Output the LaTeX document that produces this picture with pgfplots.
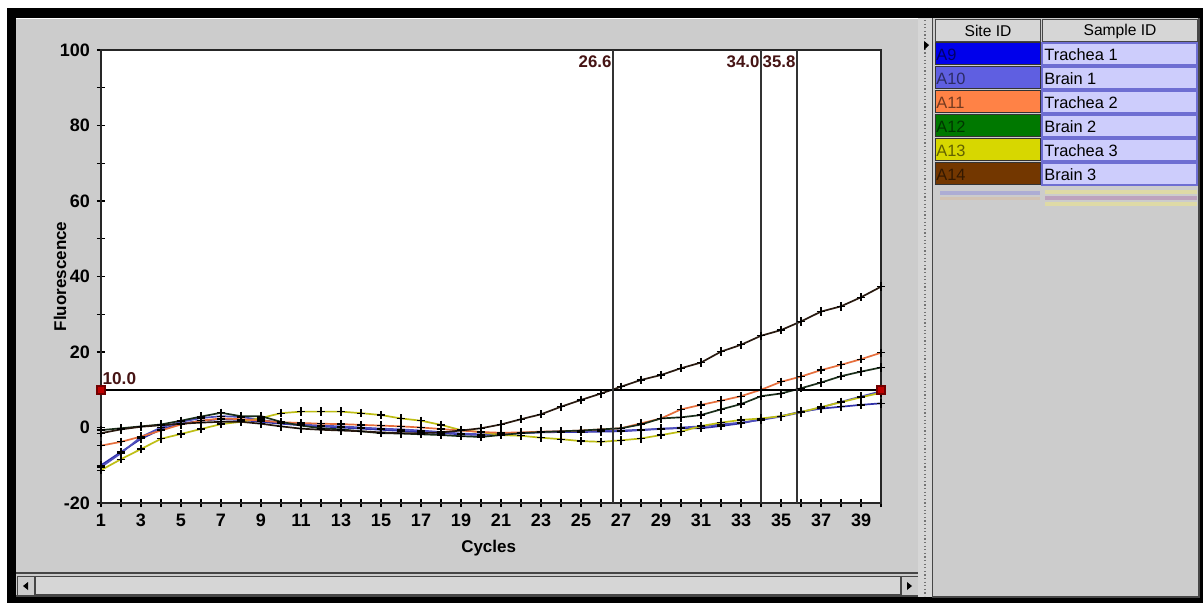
\documentclass[border=0pt]{standalone}
\usepackage{pgfplots}
\pgfplotsset{compat=1.18}
\usepackage{pgfplotstable}
\usepackage{fontspec}
\setmainfont{Liberation Sans}
\definecolor{panel}{RGB}{204,204,204}
\definecolor{track}{RGB}{214,214,214}
\definecolor{edge}{RGB}{70,70,70}
\definecolor{cAnine}{RGB}{0,0,235}
\definecolor{cAten}{RGB}{95,95,225}
\definecolor{cAeleven}{RGB}{255,130,70}
\definecolor{cAtwelve}{RGB}{0,120,0}
\definecolor{cAthirteen}{RGB}{215,215,0}
\definecolor{cAfourteen}{RGB}{115,55,0}
\definecolor{lav}{RGB}{205,205,252}
\definecolor{lavline}{RGB}{110,110,210}
\definecolor{maroon}{RGB}{70,20,20}
\definecolor{lblue}{RGB}{50,50,170}
\definecolor{lmblue}{RGB}{80,80,190}
\definecolor{lorange}{RGB}{230,110,60}
\definecolor{lgreen}{RGB}{25,45,25}
\definecolor{lyellow}{RGB}{190,190,20}
\definecolor{lbrown}{RGB}{40,25,15}

\pgfplotstableread{
c  blue  mblue orange green yellow brown
1  -10.0 -10.5 -4.8  -0.7  -11.3  -1.5
2  -6.5  -6.8  -3.8  -0.2  -8.4   -0.5
3  -3.0  -2.5  -2.4   0.3  -5.7    0.2
4  -0.5   0.0  -0.8   0.8  -3.0    0.6
5   1.0   1.5   0.8   1.8  -1.7    1.0
6   1.8   2.5   1.8   2.9  -0.4    1.3
7   2.2   3.0   2.4   3.9   0.9    1.5
8   2.0   2.8   2.2   3.0   1.5    1.5
9   1.5   2.0   1.8   3.0   2.5    1.0
10  1.0   1.3   1.4   1.5   3.8    0.3
11  0.6   0.8   1.2   0.5   4.2   -0.3
12  0.3   0.5   1.0  -0.2   4.2   -0.6
13  0.0   0.3   0.9  -0.5   4.2   -0.8
14 -0.3   0.0   0.7  -1.0   3.8   -1.0
15 -0.6  -0.3   0.5  -1.5   3.3   -1.3
16 -0.9  -0.5   0.3  -1.6   2.4   -1.5
17 -1.2  -0.8   0.0  -1.8   1.8   -1.5
18 -1.5  -1.2  -0.4  -2.0   0.7   -1.3
19 -1.8  -1.6  -0.8  -2.3  -0.7   -0.8
20 -2.0  -1.8  -1.2  -2.5  -1.2   -0.2
21 -1.8  -1.6  -1.4  -2.0  -2.0    0.8
22 -1.5  -1.4  -1.3  -1.5  -2.2    2.2
23 -1.3  -1.2  -1.1  -1.2  -2.7    3.5
24 -1.2  -1.0  -1.0  -1.0  -3.1    5.5
25 -1.2  -1.0  -0.8  -0.8  -3.6    7.3
26 -1.1  -0.8  -0.5  -0.5  -3.8    9.0
27 -1.0  -0.8  -0.2  -0.2  -3.4   10.8
28 -0.7  -0.6   1.1   0.8  -2.9   12.6
29 -0.3  -0.4   2.4   2.4  -2.0   13.9
30 -0.2   0.0   4.8   2.7  -1.1   15.7
31 -0.2   0.3   6.0   3.3   0.4   17.2
32  0.4   0.8   7.1   4.8   1.3   20.1
33  1.1   1.3   8.3   6.2   2.0   21.9
34  2.2   2.0  10.0   8.3   2.4   24.3
35  3.0   2.9  12.1   9.0   3.0   25.8
36  4.2   4.0  13.5  10.4   4.1   28.1
37  5.0   5.3  15.2  11.9   5.4   30.7
38  5.5   6.8  16.6  13.6   6.7   32.1
39  6.0   8.2  18.1  14.8   8.0   34.5
40  6.4   9.6  19.8  15.9   9.2   37.3
}\datatable

\begin{document}
\begin{tikzpicture}
\begin{scope}[x=0.5pt,y=-0.5pt]
  % page and window frame
  \fill[white] (0,0) rectangle (1203,603);
  \fill[black] (7,8) rectangle (1203,603);
  % left panel
  \fill[panel] (16,18) rectangle (918,597);
  \draw[white,line width=0.6pt] (16,18.5) -- (918,18.5);
  % scrollbar
  \draw[edge,line width=0.9pt] (16,573) -- (918,573);
  \fill[track] (35,576) rectangle (900,594);
  \draw[edge,line width=0.5pt] (35,576) rectangle (900,594);
  \fill[panel] (17,576) rectangle (34,595);
  \draw[edge,line width=0.5pt] (17,576) rectangle (34,595);
  \fill[panel] (901,576) rectangle (918,595);
  \draw[edge,line width=0.5pt] (901,576) rectangle (918,595);
  \fill[black] (23,586) -- (28,582) -- (28,590) -- cycle;
  \fill[black] (912,586) -- (907,582) -- (907,590) -- cycle;
  \draw[edge,line width=0.9pt] (16,596) -- (918,596);
  % separator
  \fill[track] (918,18) rectangle (932,597);
  \draw[black!55,line width=0.9pt,dash pattern=on 0.6pt off 1.2pt] (925,20) -- (925,596);
  \fill[black] (922,12) -- (927,8) -- (927,17) -- cycle;
  \fill[black] (929,45) -- (924,41) -- (924,50) -- cycle;
  % right panel
  \fill[panel] (932,18) rectangle (1199,597);
  \draw[edge,line width=0.9pt] (932.5,18) -- (932.5,597) -- (1199,597) -- (1199,18);
  % header
  \fill[track] (935,20) rectangle (1040,42);
  \draw[edge,line width=0.5pt] (935,20) rectangle (1040,42);
  \fill[track] (1042,20) rectangle (1197,42);
  \draw[edge,line width=0.5pt] (1042,20) rectangle (1197,42);
  \node[font=\fontsize{7.8}{9}\selectfont,inner sep=0] at (988,31) {Site ID};
  \node[font=\fontsize{7.8}{9}\selectfont,inner sep=0] at (1120,31) {Sample ID};
  % rows
  \foreach \i/\col/\id/\name in {0/cAnine/A9/Trachea 1,1/cAten/A10/Brain 1,2/cAeleven/A11/Trachea 2,3/cAtwelve/A12/Brain 2,4/cAthirteen/A13/Trachea 3,5/cAfourteen/A14/Brain 3}{
    \pgfmathsetmacro{\ya}{43+24*\i}
    \pgfmathsetmacro{\yb}{\ya+22}
    \pgfmathsetmacro{\ym}{\ya+11.5}
    \fill[\col] (935,\ya) rectangle (1040,\yb);
    \draw[black!80,line width=0.5pt] (935,\ya) rectangle (1040,\yb);
    \fill[lav] (1042,\ya) rectangle (1197,\yb);
    \draw[lavline,line width=0.9pt] (1042,\ya) rectangle (1197,\yb);
    \node[anchor=west,inner sep=0,text=\col!45!black,font=\fontsize{8.2}{9}\selectfont] at (936,\ym) {\id};
    \node[anchor=west,inner sep=0,font=\fontsize{8.2}{9}\selectfont] at (1044,\ym) {\name};
  }
  % faint ghost stripes
  \fill[blue!15!panel] (940,191) rectangle (1040,195);
  \fill[yellow!25!panel] (1045,190) rectangle (1197,194);
  \fill[orange!12!panel] (940,197) rectangle (1040,200);
  \fill[violet!20!panel] (1045,196) rectangle (1197,200);
  \fill[yellow!25!panel] (1045,202) rectangle (1197,206);
\end{scope}

\begin{axis}[
  at={(50.5pt,-251.5pt)}, anchor=south west,
  width=390pt, height=226.5pt, scale only axis,
  xmin=1, xmax=40, ymin=-20, ymax=100,
  axis background/.style={fill=white},
  axis line style={draw=black!85, line width=0.9pt},
  xtick={1,3,...,39}, minor xtick={2,4,...,40},
  ytick={-20,0,...,100}, minor ytick={-10,10,...,90},
  xtick pos=lower, ytick pos=left,
  tick align=center, major tick length=4pt, minor tick length=4pt,
  tick style={black, line width=0.7pt},
  ticklabel style={font=\fontsize{9}{10}\selectfont\bfseries},
  /pgf/number format/assume math mode=true,
  xlabel={Cycles}, ylabel={Fluorescence},
  label style={font=\fontsize{8.5}{10}\selectfont\bfseries},
  xlabel style={at={(axis description cs:0.497,-0.099)},anchor=center},
  ylabel style={at={(axis description cs:-0.0526,0.5)},anchor=center},
  clip=false,
  every axis plot/.append style={line width=0.85pt, mark=+, mark size=2.1pt, mark options={black, solid, line width=0.65pt}},
]
\addplot[lblue] table[x=c,y=blue] {\datatable};
\addplot[lmblue] table[x=c,y=mblue] {\datatable};
\addplot[lyellow] table[x=c,y=yellow] {\datatable};
\addplot[lorange] table[x=c,y=orange] {\datatable};
\addplot[lgreen] table[x=c,y=green] {\datatable};
\addplot[lbrown] table[x=c,y=brown] {\datatable};
% threshold and Ct lines
\addplot[black, line width=0.8pt, mark=square*, mark size=2pt, mark options={fill=red!75!black, draw=red!45!black}] coordinates {(1,10) (40,10)};
\addplot[black!80, line width=0.7pt, mark=none] coordinates {(26.6,-20) (26.6,100)};
\addplot[black!80, line width=0.7pt, mark=none] coordinates {(34.0,-20) (34.0,100)};
\addplot[black!80, line width=0.7pt, mark=none] coordinates {(35.8,-20) (35.8,100)};
\node[anchor=east,inner sep=0.6pt,text=maroon,font=\fontsize{8.4}{10}\selectfont\bfseries] at (axis cs:26.6,96.8) {26.6};
\node[anchor=east,inner sep=0.6pt,text=maroon,font=\fontsize{8.4}{10}\selectfont\bfseries] at (axis cs:34.0,96.8) {34.0};
\node[anchor=east,inner sep=0.6pt,text=maroon,font=\fontsize{8.4}{10}\selectfont\bfseries] at (axis cs:35.8,96.8) {35.8};
\node[anchor=west,inner sep=0.6pt,text=maroon,font=\fontsize{8.6}{10}\selectfont\bfseries] at (axis cs:1,12.9) {10.0};
\end{axis}
\end{tikzpicture}
\end{document}
